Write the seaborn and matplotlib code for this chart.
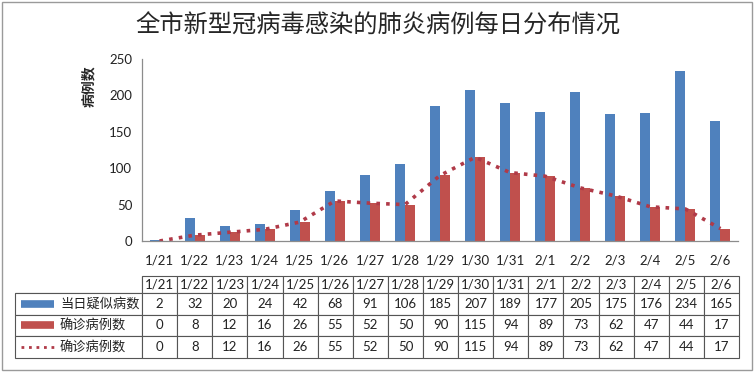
import numpy as np
import pandas as pd
import matplotlib
matplotlib.use("Agg")
import matplotlib.pyplot as plt
import seaborn as sns
from matplotlib.patches import Rectangle

# data
dates = ["1/21", "1/22", "1/23", "1/24", "1/25", "1/26", "1/27", "1/28", "1/29",
         "1/30", "1/31", "2/1", "2/2", "2/3", "2/4", "2/5", "2/6"]
suspected = [2, 32, 20, 24, 42, 68, 91, 106, 185, 207, 189, 177, 205, 175, 176, 234, 165]
confirmed = [0, 8, 12, 16, 26, 55, 52, 50, 90, 115, 94, 89, 73, 62, 47, 44, 17]
series_names = ["当日疑似病数", "确诊病例数", "确诊病例数"]
title = "全市新型冠病毒感染的肺炎病例每日分布情况"

blue = "#4F81BD"
red = "#C0504D"

sns.set_theme(style="white")
plt.rcParams["font.family"] = ["Lato", "Noto Sans CJK SC", "DejaVu Sans"]

df = pd.DataFrame({
    "date": dates * 2,
    "value": suspected + confirmed,
    "series": [series_names[0]] * len(dates) + [series_names[1]] * len(dates),
})

fig = plt.figure(figsize=(7.56, 3.75), dpi=100)
ax = fig.add_axes([142 / 756, 134 / 375, 596 / 756, 182 / 375])

sns.barplot(data=df, x="date", y="value", hue="series", order=dates,
            palette=[blue, red], saturation=1, width=0.57, legend=False, ax=ax)
sns.lineplot(x=np.arange(len(dates)), y=confirmed, color="#B03A48", linestyle=(0, (1, 1.7)),
             linewidth=2.6, ax=ax)
for p in ax.patches:
    p.set_edgecolor("none")

ax.set_ylim(0, 250)
ax.set_yticks(range(0, 251, 50))
ax.set_xlim(-0.5, len(dates) - 0.5)
ax.set_xlabel("")
ax.set_ylabel("")
ax.tick_params(axis="y", length=0, pad=7, labelsize=9.5, colors="#222222")
ax.tick_params(axis="x", length=0, pad=10, labelsize=9.5, colors="#222222")
for s in ["top", "right"]:
    ax.spines[s].set_visible(False)
for s in ["left", "bottom"]:
    ax.spines[s].set_color("#8c8c8c")
    ax.spines[s].set_linewidth(0.9)

ax.text(-0.0906, 0.852, "病例数", transform=ax.transAxes, rotation=90,
        ha="center", va="center", fontsize=10, fontweight="bold")

fig.text(0.5, 1 - 25 / 375, title, ha="center", va="center", fontsize=17.5,
         fontweight="medium")

# data table under the chart
cells = [[""] + dates,
         [""] + [str(v) for v in suspected],
         [""] + [str(v) for v in confirmed],
         [""] + [str(v) for v in confirmed]]
tbl = ax.table(cellText=cells, cellLoc="center",
               colWidths=[127] + [35.06] * len(dates),
               bbox=[-127 / 596, -117 / 182, 724 / 596, 82 / 182])
tbl.auto_set_font_size(False)
tbl.set_fontsize(9.5)
for (r, c), cell in tbl.get_celld().items():
    cell.set_edgecolor("#555555")
    cell.set_linewidth(0.8)
    cell.set_height(17 if r == 0 else 21.7)
    cell.get_text().set_color("#222222")
tbl[(0, 0)].visible_edges = "BR"
tbl[(0, 0)].set_edgecolor("#555555")

row_y = [-62.5 / 182, -84 / 182, -106 / 182]
sw_x = [-121 / 596, -88 / 596]
ax.plot(sw_x, [row_y[0]] * 2, transform=ax.transAxes, clip_on=False,
        color=blue, linewidth=5.5, solid_capstyle="butt")
ax.plot(sw_x, [row_y[1]] * 2, transform=ax.transAxes, clip_on=False,
        color=red, linewidth=5.5, solid_capstyle="butt")
ax.plot(sw_x, [row_y[2]] * 2, transform=ax.transAxes, clip_on=False,
        color="#B03A48", linewidth=2, linestyle=(0, (1, 1.7)))
for y, name in zip(row_y, series_names):
    ax.text(-82 / 596, y, name, transform=ax.transAxes, ha="left", va="center",
            fontsize=9.5, color="#222222")

fig.patches.append(Rectangle((2 / 756, 5 / 375), 750 / 756, 368 / 375,
                             transform=fig.transFigure, fill=False,
                             edgecolor="#9a9a9a", linewidth=1))

fig.savefig("out.png", dpi=100)
